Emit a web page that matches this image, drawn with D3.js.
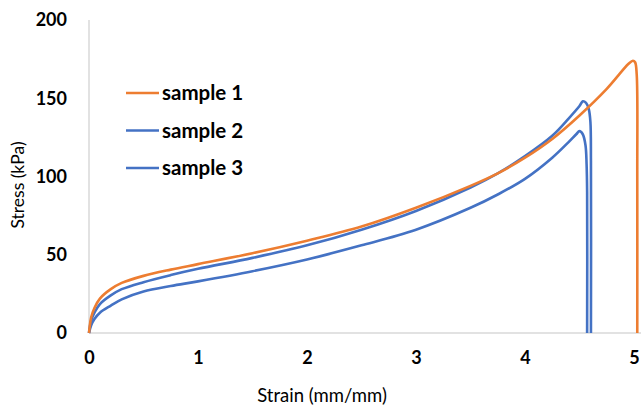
<!DOCTYPE html>
<html>
<head>
<meta charset="utf-8">
<script src="https://cdn.jsdelivr.net/npm/d3@7"></script>
<style>
  body { margin: 0; background: #fff; }
  svg { display: block; }
  .tick text { font-family: Lato, "Open Sans", sans-serif; font-weight: bold; font-size: 18px; fill: #000; }
</style>
</head>
<body>
<div id="chart"></div>
<script>
// stress-strain curves
const seriesNames = ["sample 1", "sample 2", "sample 3"];
const seriesColors = ["#ED7D31", "#4472C4", "#4472C4"];
const xTicks = [0, 1, 2, 3, 4, 5];
const yTicks = [0, 50, 100, 150, 200];

const strain1 = [0, 0.02, 0.05, 0.1, 0.2, 0.3, 0.5, 0.75, 1.0, 1.5, 2.0, 2.5, 3.0, 3.5, 3.75, 4.0, 4.25, 4.5, 4.75, 4.95, 4.99, 5.01, 5.025, 5.03, 5.03];
const stress1 = [0, 10, 16, 22, 28, 32, 36.5, 40.5, 44, 51, 59, 68, 80, 94, 102, 112, 124, 139, 156, 172, 174, 173, 165, 100, 0];

const strain2 = [0, 0.02, 0.05, 0.1, 0.2, 0.3, 0.5, 0.75, 1.0, 1.5, 2.0, 2.5, 3.0, 3.5, 3.75, 4.0, 4.25, 4.4, 4.5, 4.53, 4.56, 4.585, 4.6, 4.605, 4.605];
const stress2 = [0, 8, 13, 18.5, 24, 28, 32.5, 37, 41, 48, 56, 66, 78, 93, 102, 113, 126, 137, 145, 148, 147, 143, 135, 110, 0];

const strain3 = [0, 0.02, 0.05, 0.1, 0.2, 0.3, 0.5, 0.75, 1.0, 1.5, 2.0, 2.5, 3.0, 3.5, 3.75, 4.0, 4.25, 4.4, 4.47, 4.5, 4.53, 4.555, 4.565, 4.57, 4.57];
const stress3 = [0, 5, 9, 13, 17.5, 21.5, 26.5, 30, 33, 39.5, 47, 56, 66, 80, 88.5, 98.5, 112, 122, 127, 129, 127, 120, 108, 90, 0];

const strains = [strain1, strain2, strain3];
const stresses = [stress1, stress2, stress3];

const w = 643, h = 409;
const mLeft = 89, mRight = 634, mTop = 20, mBottom = 333;

const svg = d3.select("#chart").append("svg")
    .attr("width", w)
    .attr("height", h);

const x = d3.scaleLinear().domain([0, 5]).range([mLeft, mRight]);
const y = d3.scaleLinear().domain([0, 200]).range([mBottom, mTop]);

// axes (Excel-like: light grey line, no tick marks)
const xAxis = svg.append("g")
    .attr("transform", "translate(0," + mBottom + ")")
    .call(d3.axisBottom(x).tickValues(xTicks).tickSize(0).tickPadding(18).tickFormat(d3.format("d")));
xAxis.select(".domain").remove();
xAxis.append("line")
    .attr("x1", mLeft).attr("x2", 641)
    .attr("stroke", "#d9d9d9").attr("stroke-width", 1.5);

const yAxis = svg.append("g")
    .attr("transform", "translate(" + mLeft + ",0)")
    .call(d3.axisLeft(y).tickValues(yTicks).tickSize(0).tickPadding(22).tickFormat(d3.format("d")));
yAxis.select(".domain").remove();
yAxis.append("line")
    .attr("y1", mTop).attr("y2", mBottom)
    .attr("stroke", "#d9d9d9").attr("stroke-width", 1.5);

// curves
const line = d3.line()
    .x(d => x(d[0]))
    .y(d => y(d[1]))
    .curve(d3.curveCatmullRom.alpha(0.5));

[2, 1, 0].forEach(i => {
    const pts = strains[i].map((s, j) => [s, stresses[i][j]]);
    svg.append("path")
        .datum(pts)
        .attr("fill", "none")
        .attr("stroke", seriesColors[i])
        .attr("stroke-width", 2.6)
        .attr("stroke-linejoin", "round")
        .attr("d", line);
});

// axis titles
svg.append("text")
    .attr("x", 322).attr("y", 402)
    .attr("text-anchor", "middle")
    .style("font-family", "Lato, 'Open Sans', sans-serif")
    .style("font-size", "18.5px")
    .text("Strain (mm/mm)");

svg.append("text")
    .attr("transform", "translate(24,185) rotate(-90)")
    .attr("text-anchor", "middle")
    .style("font-family", "Lato, 'Open Sans', sans-serif")
    .style("font-size", "17.5px")
    .text("Stress (kPa)");

// legend
const legend = svg.append("g").attr("id", "legend");
seriesNames.forEach((name, i) => {
    const ly = 93 + i * 37.5;
    legend.append("line")
        .attr("x1", 126).attr("x2", 159)
        .attr("y1", ly).attr("y2", ly)
        .attr("stroke", seriesColors[i])
        .attr("stroke-width", 2.6);
    legend.append("text")
        .attr("x", 162).attr("y", ly)
        .attr("dy", "0.35em")
        .style("font-family", "Lato, 'Open Sans', sans-serif")
        .style("font-weight", "bold")
        .style("font-size", "20.5px")
        .text(name);
});
</script>
</body>
</html>
